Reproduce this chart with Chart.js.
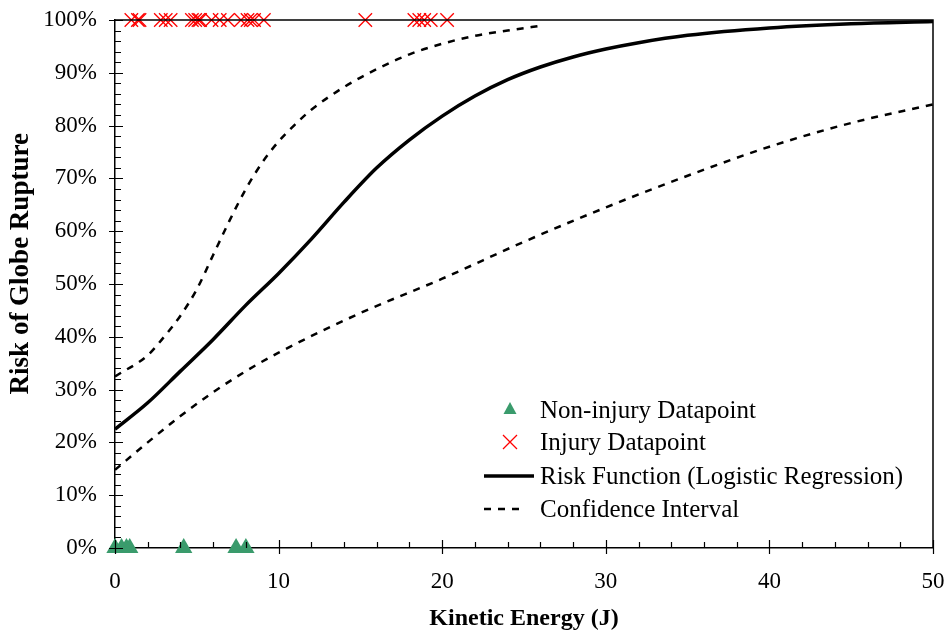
<!DOCTYPE html>
<html>
<head>
<meta charset="utf-8">
<script src="https://cdn.jsdelivr.net/npm/chart.js@4"></script>
<style>
  body { margin: 0; background: #fff; }
</style>
</head>
<body>
<canvas id="grafico" width="949" height="635"></canvas>
<script>
// datapoints
const energyNonInjury = [0, 0.4, 0.7, 0.9, 4.2, 7.4, 8.0];
const riskNonInjury = [0, 0, 0, 0, 0, 0, 0];
const energyInjury = [1.0, 1.4, 1.5, 2.8, 3.1, 3.4, 4.7, 4.9, 5.1, 5.2, 5.9, 6.4, 6.9,
  7.7, 8.1, 8.3, 8.5, 9.1, 15.3, 18.3, 18.6, 18.9, 19.3, 20.3];
const riskInjury = energyInjury.map(() => 100);

// risk function
const riskEnergy = [0, 2, 4, 6, 8, 10, 12, 14, 16, 18, 20, 22, 24, 26, 28, 30, 32, 35, 40, 45, 50];
const riskValues = [22.5, 27.5, 33.5, 39.5, 46, 52, 58.5, 65.5, 72, 77.3, 81.8, 85.6, 88.7, 91.1, 93, 94.5, 95.7, 97.1, 98.5, 99.3, 99.7];

// confidence interval
const upperEnergy = [0, 2, 3, 4, 5, 6, 7, 8, 9, 10, 11, 12, 14, 16, 18, 20, 22, 24, 26.2];
const upperValues = [32.5, 36.5, 40, 44, 49, 55.5, 62, 68, 73, 77, 80.2, 83, 87.3, 90.7, 93.5, 95.5, 97, 98, 99];
const lowerEnergy = [0, 2, 4, 6, 8, 10, 15, 20, 25, 30, 35, 40, 45, 50];
const lowerValues = [14.8, 20, 25, 29.5, 33.5, 37, 44.5, 51, 58, 64.5, 70.5, 76, 80.5, 84];

const xTicks = [0, 10, 20, 30, 40, 50];
const yTicks = [0, 10, 20, 30, 40, 50, 60, 70, 80, 90, 100];

const pares = (xs, ys) => xs.map((x, i) => ({ x: x, y: ys[i] }));

const verde = '#3A9B6C';
const fonte = '"Liberation Serif", "Times New Roman", serif';

// ticks menores, moldura
const eixosPlugin = {
  id: 'eixos',
  afterDraw(chart) {
    const ctx = chart.ctx;
    const a = chart.chartArea;
    const sx = chart.scales.x, sy = chart.scales.y;
    ctx.save();
    ctx.strokeStyle = '#000';
    ctx.lineWidth = 1.5;
    ctx.beginPath();
    ctx.moveTo(a.left, a.top); ctx.lineTo(a.right, a.top); ctx.lineTo(a.right, a.bottom);
    ctx.stroke();
    ctx.lineWidth = 1.2;
    ctx.beginPath();
    for (let v = 0; v <= 50; v += 2) {
      const px = Math.round(sx.getPixelForValue(v)) + 0.5;
      if (v % 10 === 0) { ctx.moveTo(px, a.bottom + 6); ctx.lineTo(px, a.bottom - 8); }
      else { ctx.moveTo(px, a.bottom); ctx.lineTo(px, a.bottom - 6); }
    }
    for (let v = 0; v <= 100; v += 2) {
      const py = Math.round(sy.getPixelForValue(v)) + 0.5;
      if (v % 10 === 0) { ctx.moveTo(a.left - 6, py); ctx.lineTo(a.left + 8, py); }
      else { ctx.moveTo(a.left, py); ctx.lineTo(a.left + 6, py); }
    }
    ctx.stroke();
    ctx.restore();
  }
};

// legenda dentro da area
const legendaPlugin = {
  id: 'legenda',
  afterDraw(chart) {
    const ctx = chart.ctx;
    const linhas = [410, 442, 476, 509];
    ctx.save();
    ctx.font = '25px ' + fonte;
    ctx.textBaseline = 'middle';
    ctx.fillStyle = '#000';
    chart.data.datasets.forEach((d, i) => {
      if (i > 3) return;
      const y = linhas[i];
      if (d.pointStyle === 'triangle') {
        ctx.fillStyle = d.backgroundColor;
        ctx.beginPath();
        ctx.moveTo(510, y - 8); ctx.lineTo(516.5, y + 4); ctx.lineTo(503.5, y + 4);
        ctx.closePath(); ctx.fill();
      } else if (d.pointStyle === 'crossRot') {
        ctx.strokeStyle = d.borderColor; ctx.lineWidth = 1.3;
        ctx.beginPath();
        ctx.moveTo(503, y - 7); ctx.lineTo(517, y + 7);
        ctx.moveTo(517, y - 7); ctx.lineTo(503, y + 7);
        ctx.stroke();
      } else {
        ctx.strokeStyle = d.borderColor; ctx.lineWidth = d.borderWidth;
        ctx.setLineDash(d.borderDash || []);
        ctx.beginPath();
        ctx.moveTo(484, y); ctx.lineTo(d.borderDash ? 526 : 534, y);
        ctx.stroke();
        ctx.setLineDash([]);
      }
      ctx.fillStyle = '#000';
      ctx.fillText(d.label, 540, y + 1);
    });
    ctx.restore();
  }
};

new Chart(document.getElementById('grafico'), {
  type: 'scatter',
  data: {
    datasets: [
      {
        label: 'Non-injury Datapoint',
        data: pares(energyNonInjury, riskNonInjury),
        pointStyle: 'triangle',
        pointRadius: 10,
        backgroundColor: verde,
        borderColor: verde,
        borderWidth: 0,
        clip: false
      },
      {
        label: 'Injury Datapoint',
        data: pares(energyInjury, riskInjury),
        pointStyle: 'crossRot',
        pointRadius: 9.5,
        borderColor: '#FF0000',
        borderWidth: 1.3,
        clip: false
      },
      {
        label: 'Risk Function (Logistic Regression)',
        data: pares(riskEnergy, riskValues),
        showLine: true,
        cubicInterpolationMode: 'monotone',
        borderColor: '#000',
        borderWidth: 3.5,
        pointRadius: 0
      },
      {
        label: 'Confidence Interval',
        data: pares(upperEnergy, upperValues),
        showLine: true,
        cubicInterpolationMode: 'monotone',
        borderColor: '#000',
        borderWidth: 2.5,
        borderDash: [7, 7],
        pointRadius: 0
      },
      {
        label: 'Confidence Interval (lower)',
        data: pares(lowerEnergy, lowerValues),
        showLine: true,
        cubicInterpolationMode: 'monotone',
        borderColor: '#000',
        borderWidth: 2.5,
        borderDash: [7, 7],
        pointRadius: 0
      }
    ]
  },
  options: {
    responsive: false,
    animation: false,
    layout: { padding: { top: 20, right: 16, left: 0, bottom: 0 } },
    plugins: {
      legend: { display: false },
      tooltip: { enabled: false }
    },
    scales: {
      x: {
        type: 'linear',
        min: 0, max: 50,
        afterFit: s => { s.height = 87; s.paddingLeft = 0; s.paddingRight = 0; },
        afterBuildTicks: s => { s.ticks = xTicks.map(v => ({ value: v })); },
        grid: { display: false },
        border: { display: true, color: '#000', width: 1.5 },
        ticks: { color: '#000', font: { family: fonte, size: 23 }, padding: 12 },
        title: {
          display: true, text: 'Kinetic Energy (J)', color: '#000',
          font: { family: fonte, size: 24, weight: 'bold' }, padding: { top: 0, bottom: 2 }
        }
      },
      y: {
        type: 'linear',
        min: 0, max: 100,
        afterFit: s => { s.width = 115; s.paddingTop = 0; s.paddingBottom = 0; },
        afterBuildTicks: s => { s.ticks = yTicks.map(v => ({ value: v })); },
        grid: { display: false },
        border: { display: true, color: '#000', width: 1.5 },
        ticks: {
          color: '#000', font: { family: fonte, size: 23 }, padding: 10,
          callback: v => v + '%'
        },
        title: {
          display: true, text: '      Risk of Globe Rupture', color: '#000',
          font: { family: fonte, size: 27, weight: 'bold' }, padding: { top: 5, bottom: 0 }
        }
      }
    }
  },
  plugins: [eixosPlugin, legendaPlugin]
});
</script>
</body>
</html>
